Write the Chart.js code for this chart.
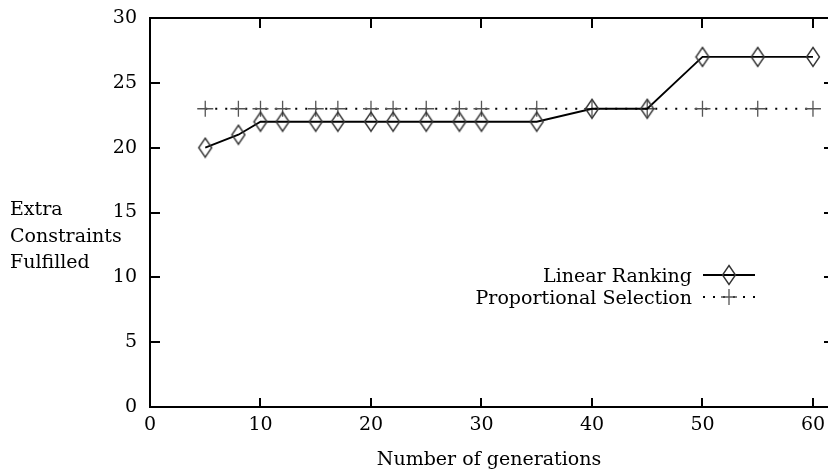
<!DOCTYPE html>
<html><head><meta charset="utf-8">
<script src="https://cdn.jsdelivr.net/npm/chart.js@4/dist/chart.umd.min.js"></script>
<style>html,body{margin:0;padding:0;background:#fff;overflow:hidden}#wrap{width:828px;height:476px}</style>
</head><body><div id="wrap"><canvas id="c"></canvas></div>
<script>
// --- data ---
const generations=[5,8,10,12,15,17,20,22,25,28,30,35,40,45,50,55,60];
const linearRanking=[20,21,22,22,22,22,22,22,22,22,22,22,23,23,27,27,27];
const proportionalSel=[23,23,23,23,23,23,23,23,23,23,23,23,23,23,23,23,23];
const seriesNames=['Linear Ranking','Proportional Selection'];
const xTicks=[0,10,20,30,40,50,60];
const yTicks=[0,5,10,15,20,25,30];
const xTitle='Number of generations';
const yTitle=['Extra','Constraints','Fulfilled'];

const FONT='"DejaVu Serif", serif', FS=19;

// gnuplot-ish diamond (taller than wide)
function diamond(){
  const c=document.createElement('canvas');c.width=16;c.height=22;
  const g=c.getContext('2d');g.strokeStyle='#333';g.lineWidth=1.4;
  g.beginPath();g.moveTo(8,1.5);g.lineTo(14.5,11);g.lineTo(8,20.5);g.lineTo(1.5,11);g.closePath();g.stroke();
  return c;
}
const DIA=diamond();

function pts(xs,ys){return xs.map((x,i)=>({x,y:ys[i]}));}

// frame + inward ticks like gnuplot
const frame={id:'frame',afterDraw(ch){
  const {ctx,chartArea:a,scales:{x,y}}=ch;
  ctx.save();ctx.strokeStyle='#000';ctx.lineWidth=2;
  ctx.beginPath();
  ctx.moveTo(a.right+2,a.top);ctx.lineTo(a.left,a.top);ctx.lineTo(a.left,a.bottom);ctx.lineTo(a.right+2,a.bottom);
  ctx.stroke();
  ctx.beginPath();
  xTicks.forEach(v=>{const px=Math.round(x.getPixelForValue(v));
    if(v===0)return;
    ctx.moveTo(px,a.bottom);ctx.lineTo(px,a.bottom-9);
    ctx.moveTo(px,a.top);ctx.lineTo(px,a.top+10);});
  yTicks.forEach(v=>{const py=Math.round(y.getPixelForValue(v));
    if(v===0||v===30)return;
    ctx.moveTo(a.left,py);ctx.lineTo(a.left+10,py);
    ctx.moveTo(a.right,py);ctx.lineTo(a.right-4,py);});
  ctx.stroke();ctx.restore();
}};

// y title (three lines, left aligned) + legend with key to the right of the text
const labels={id:'labels',afterDraw(ch){
  const {ctx}=ch;ctx.save();
  ctx.font=FS+'px '+FONT;ctx.fillStyle='#000';ctx.textBaseline='alphabetic';ctx.textAlign='left';
  yTitle.forEach((t,i)=>ctx.fillText(t,10,215+i*26.5));
  ctx.textAlign='right';
  ch.data.datasets.forEach((ds,i)=>{
    const ry=275+i*22;
    ctx.fillText(ds.label,692,ry+7);
    ctx.strokeStyle=ds.borderColor;ctx.lineWidth=ds.borderWidth;ctx.setLineDash(ds.borderDash||[]);
    ctx.beginPath();ctx.moveTo(703,ry);ctx.lineTo(755,ry);ctx.stroke();ctx.setLineDash([]);
    if(ds.pointStyle===DIA){ctx.drawImage(DIA,729-8,ry-11);}
    else{ctx.strokeStyle=ds.pointBorderColor;ctx.lineWidth=ds.pointBorderWidth;ctx.beginPath();
      ctx.moveTo(729-8,ry);ctx.lineTo(729+8,ry);ctx.moveTo(729,ry-8);ctx.lineTo(729,ry+8);ctx.stroke();}
  });
  ctx.restore();
}};

new Chart(document.getElementById('c'),{type:'line',
  data:{datasets:[
    {label:seriesNames[0],data:pts(generations,linearRanking),borderColor:'#000',borderWidth:1.8,
      pointStyle:DIA,pointRadius:8,pointBorderColor:'#333',pointBackgroundColor:'transparent',tension:0},
    {label:seriesNames[1],data:pts(generations,proportionalSel),borderColor:'#000',borderWidth:2,borderDash:[2,8],
      pointStyle:'cross',pointRadius:8,pointBorderColor:'#555',pointBorderWidth:1.3,pointBackgroundColor:'transparent',tension:0}
  ]},
  options:{animation:false,responsive:true,maintainAspectRatio:false,
    layout:{autoPadding:false,padding:{top:18,right:0,left:0,bottom:0}},
    plugins:{legend:{display:false},tooltip:{enabled:false}},
    scales:{
      x:{type:'linear',min:0,max:61.36,
        afterBuildTicks:s=>{s.ticks=xTicks.map(v=>({value:v}));},
        afterFit:s=>{s.height=69;s.paddingLeft=0;s.paddingRight=0;},
        grid:{display:false,drawTicks:false},border:{display:false},
        ticks:{color:'#000',font:{family:FONT,size:FS},padding:7,maxRotation:0},
        title:{display:true,text:xTitle,color:'#000',font:{family:FONT,size:FS},padding:{top:4,bottom:5}}},
      y:{min:0,max:30,
        afterBuildTicks:s=>{s.ticks=yTicks.map(v=>({value:v}));},
        afterFit:s=>{s.width=150;s.paddingTop=0;s.paddingBottom=0;},
        grid:{display:false,drawTicks:false},border:{display:false},
        ticks:{color:'#000',font:{family:FONT,size:FS},padding:13}}
    }},
  plugins:[frame,labels]});
</script></body></html>
